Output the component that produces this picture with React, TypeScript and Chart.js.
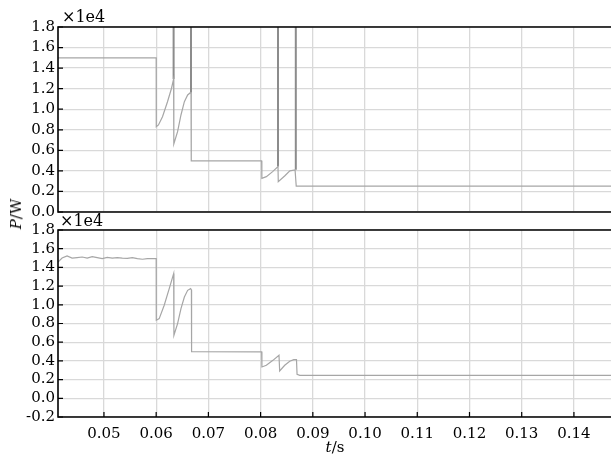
import React, { useEffect, useRef } from "react";
import { Chart, registerables } from "chart.js";
Chart.register(...registerables);

const X_MIN = 0.0412;
const X_MAX = 0.1471;
const xTickValues = [0.05, 0.06, 0.07, 0.08, 0.09, 0.1, 0.11, 0.12, 0.13, 0.14];
const topYTickValues = [0, 0.2, 0.4, 0.6, 0.8, 1.0, 1.2, 1.4, 1.6, 1.8];
const bottomYTickValues = [-0.2, 0, 0.2, 0.4, 0.6, 0.8, 1.0, 1.2, 1.4, 1.6, 1.8];

// top panel: P (x1e4 W) versus t (s)
const topT = [0.0412, 0.06, 0.06002, 0.06044, 0.06121, 0.06217, 0.06294, 0.06334, 0.06338, 0.0641, 0.06475, 0.0654, 0.06603, 0.06654, 0.06667, 0.06672, 0.0802, 0.08024, 0.0811, 0.0823, 0.08333, 0.08338, 0.0846, 0.0856, 0.0866, 0.08674, 0.08682, 0.1471];
const topP = [1.5, 1.5, 0.83, 0.847, 0.927, 1.073, 1.204, 1.294, 0.662, 0.782, 0.944, 1.073, 1.139, 1.161, 1.16, 0.497, 0.497, 0.328, 0.344, 0.393, 0.442, 0.295, 0.35, 0.4, 0.41, 0.41, 0.252, 0.252];
const topSpikeT = [0.06334, 0.06667, 0.08333, 0.08674];
const topSpikeBase = [1.294, 1.16, 0.442, 0.41];

// bottom panel
const bottomT = [0.04121, 0.04198, 0.04294, 0.0439, 0.04487, 0.04583, 0.04679, 0.04775, 0.04871, 0.04967, 0.05063, 0.0516, 0.05256, 0.05352, 0.05448, 0.05544, 0.0564, 0.05737, 0.05833, 0.05929, 0.06, 0.06002, 0.06058, 0.06154, 0.0625, 0.06335, 0.0634, 0.0641, 0.06475, 0.0654, 0.06603, 0.0666, 0.06675, 0.06678, 0.0802, 0.08025, 0.0811, 0.08236, 0.08352, 0.08365, 0.08462, 0.08558, 0.08635, 0.08687, 0.08698, 0.0875, 0.1471];
const bottomP = [1.458, 1.5, 1.522, 1.5, 1.505, 1.511, 1.5, 1.515, 1.505, 1.494, 1.508, 1.5, 1.505, 1.5, 1.497, 1.505, 1.494, 1.487, 1.494, 1.494, 1.494, 0.834, 0.852, 0.995, 1.173, 1.334, 0.674, 0.799, 0.959, 1.083, 1.155, 1.173, 1.16, 0.5, 0.497, 0.335, 0.353, 0.406, 0.46, 0.292, 0.353, 0.396, 0.414, 0.414, 0.257, 0.246, 0.246];

const FONT = "'DejaVu Serif', serif";
const LINE = "#a6a6a6";
const GRID = "#d9d9d9";

const framePlugin = {
  id: "frame",
  afterDatasetsDraw(chart: any, _args: any, opts: any) {
    const { ctx, chartArea: a } = chart;
    ctx.save();
    ctx.strokeStyle = "#000";
    ctx.lineWidth = 1.6;
    ctx.beginPath();
    ctx.moveTo(a.right + 2, a.top);
    ctx.lineTo(a.left, a.top);
    ctx.lineTo(a.left, a.bottom);
    ctx.lineTo(a.right + 2, a.bottom);
    ctx.stroke();
    ctx.lineWidth = 1.2;
    const ys = chart.scales.y;
    ctx.beginPath();
    for (const t of ys.ticks) {
      const py = ys.getPixelForValue(t.value);
      ctx.moveTo(a.left, py);
      ctx.lineTo(a.left + 5, py);
    }
    if (opts && opts.xTicks) {
      const xs = chart.scales.x;
      for (const t of xs.ticks) {
        const px = xs.getPixelForValue(t.value);
        ctx.moveTo(px, a.bottom);
        ctx.lineTo(px, a.bottom - 5);
      }
    }
    ctx.stroke();
    ctx.restore();
  },
};

function Panel(props: {
  datasets: any[];
  yMin: number;
  yMax: number;
  yTicks: number[];
  showX: boolean;
  top: number;
  height: number;
  padTop: number;
  padBottom: number;
  xHeight: number;
}) {
  const ref = useRef<HTMLCanvasElement>(null);
  useEffect(() => {
    if (!ref.current) return;
    const chart = new Chart(ref.current, {
      type: "line",
      data: { datasets: props.datasets },
      plugins: [framePlugin],
      options: {
        animation: false,
        responsive: false,
        maintainAspectRatio: false,
        layout: { padding: { top: props.padTop, left: 0, right: 0, bottom: props.padBottom } },
        plugins: {
          legend: { display: false },
          tooltip: { enabled: false },
          frame: { xTicks: props.showX },
        } as any,
        elements: { point: { radius: 0 }, line: { tension: 0 } },
        scales: {
          x: {
            type: "linear",
            min: X_MIN,
            max: X_MAX,
            afterBuildTicks: (s: any) => {
              s.ticks = xTickValues.map((v) => ({ value: v }));
            },
            afterFit: (s: any) => {
              s.height = props.xHeight;
              s.paddingLeft = 0;
              s.paddingRight = 0;
              s.paddingTop = 0;
              s.paddingBottom = 0;
            },
            ticks: {
              display: props.showX,
              autoSkip: false,
              maxRotation: 0,
              color: "#000",
              padding: 8,
              font: { family: FONT, size: 15 },
              callback: (v: any) => Number(v).toFixed(2),
            },
            grid: { color: GRID, lineWidth: 1.3, drawTicks: false },
            border: { display: false },
          },
          y: {
            type: "linear",
            min: props.yMin,
            max: props.yMax,
            afterBuildTicks: (s: any) => {
              s.ticks = props.yTicks.map((v) => ({ value: v }));
            },
            afterFit: (s: any) => {
              s.width = 58;
              s.paddingTop = 0;
              s.paddingBottom = 0;
              s.paddingLeft = 0;
              s.paddingRight = 0;
            },
            ticks: {
              autoSkip: false,
              color: "#000",
              padding: 3,
              font: { family: FONT, size: 15 },
              callback: (v: any) => Number(v).toFixed(1),
            },
            grid: { color: GRID, lineWidth: 1.3, drawTicks: false },
            border: { display: false },
          },
        },
      } as any,
    });
    return () => chart.destroy();
  }, []);
  return (
    <div style={{ position: "absolute", left: 0, top: props.top, width: 611, height: props.height }}>
      <canvas ref={ref} width={611} height={props.height} style={{ width: 611, height: props.height }} />
    </div>
  );
}

function pts(t: number[], p: number[]) {
  return t.map((x, i) => ({ x, y: p[i] }));
}

function spikes(t: number[], base: number[]) {
  const out: any[] = [];
  t.forEach((x, i) => {
    out.push({ x, y: base[i] }, { x, y: 2.5 }, { x, y: null });
  });
  return out;
}

export default function App() {
  const topSets = [
    { data: pts(topT, topP), borderColor: LINE, borderWidth: 1.2, spanGaps: false },
    { data: spikes(topSpikeT, topSpikeBase), borderColor: "#8c8c8c", borderWidth: 2, spanGaps: false },
  ];
  const bottomSets = [{ data: pts(bottomT, bottomP), borderColor: LINE, borderWidth: 1.2 }];
  return (
    <div style={{ position: "fixed", left: 0, top: 0, width: 611, height: 457, background: "#fff", overflow: "hidden" }}>
      <Panel datasets={topSets} yMin={0} yMax={1.8} yTicks={topYTickValues} showX={false} top={0} height={224} padTop={27} padBottom={11} xHeight={1} />
      <Panel datasets={bottomSets} yMin={-0.2} yMax={1.8} yTicks={bottomYTickValues} showX={true} top={215} height={242} padTop={15} padBottom={0} xHeight={40} />
      <div style={{ position: "absolute", left: 62, top: 9, font: `16px ${FONT}`, lineHeight: "16px", color: "#000" }}>×1e4</div>
      <div style={{ position: "absolute", left: 60, top: 213, font: `16px ${FONT}`, lineHeight: "16px", color: "#000" }}>×1e4</div>
      <div
        style={{
          position: "absolute",
          left: 16,
          top: 214,
          transform: "translate(-50%, -50%) rotate(-90deg)",
          font: `15px ${FONT}`,
          whiteSpace: "nowrap",
          color: "#000",
        }}
      >
        <i>P</i>/W
      </div>
      <div
        style={{
          position: "absolute",
          left: 335,
          top: 447,
          transform: "translate(-50%, -50%)",
          font: `15px ${FONT}`,
          whiteSpace: "nowrap",
          color: "#000",
        }}
      >
        <i>t</i>/s
      </div>
    </div>
  );
}
